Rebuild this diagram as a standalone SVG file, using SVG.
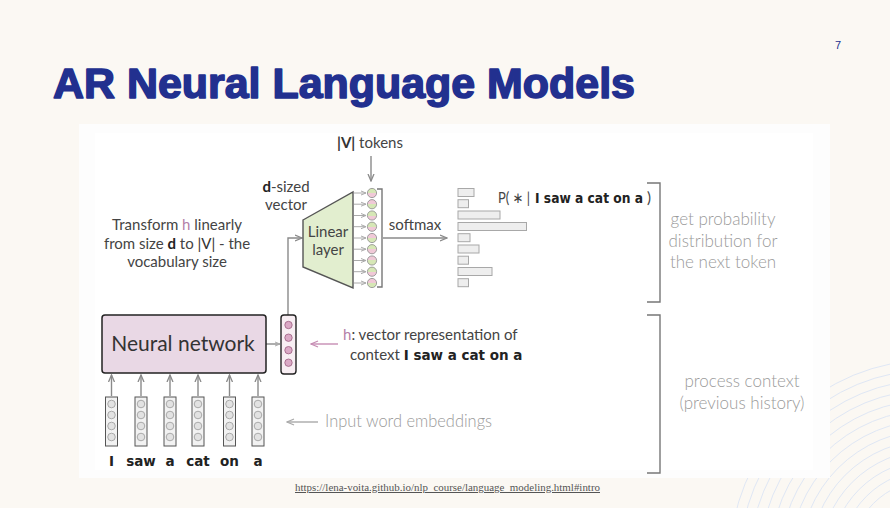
<svg xmlns="http://www.w3.org/2000/svg" width="890" height="508" viewBox="0 0 890 508">
<defs>
<style>
.t{font-family:Lato,"Open Sans","DejaVu Sans",sans-serif;font-size:15px;fill:#444}
.lt{font-family:Lato,"Open Sans","DejaVu Sans",sans-serif;font-size:17px;fill:#9a9a9a;font-weight:300}
.cm{font-family:"DejaVu Sans",sans-serif;font-size:13.5px;fill:#222;font-weight:bold}
.ln{stroke:#8a8a8a;stroke-width:1.4;fill:none}
.br{stroke:#777;stroke-width:1.4;fill:none}
.emb{fill:#f2f2f2;stroke:#555;stroke-width:1}
.ec{fill:#e2e2e2;stroke:#999;stroke-width:0.8}
.bar{fill:#eeeeee;stroke:#a8a8a8;stroke-width:1}
.hc{fill:#dba9c6;stroke:#9c5e80;stroke-width:0.8}
</style>
<marker id="ag" markerWidth="8" markerHeight="8" refX="7" refY="4" orient="auto" markerUnits="userSpaceOnUse">
<path d="M0,1 L7,4 L0,7" fill="none" stroke="#8a8a8a" stroke-width="1.3"/>
</marker>
<marker id="as" markerWidth="6" markerHeight="6" refX="5" refY="3" orient="auto" markerUnits="userSpaceOnUse">
<path d="M0,1 L5,3 L0,5" fill="none" stroke="#aaa" stroke-width="1"/>
</marker>
<marker id="ap" markerWidth="9" markerHeight="8" refX="8" refY="4" orient="auto" markerUnits="userSpaceOnUse">
<path d="M1,1 L8,4 L1,7" fill="none" stroke="#c68db3" stroke-width="1.3"/>
</marker>
<marker id="al" markerWidth="9" markerHeight="8" refX="8" refY="4" orient="auto" markerUnits="userSpaceOnUse">
<path d="M1,1 L8,4 L1,7" fill="none" stroke="#aaa" stroke-width="1.3"/>
</marker>
<linearGradient id="gp" x1="0" y1="0" x2="0" y2="1">
<stop offset="0.5" stop-color="#d6e7b6"/><stop offset="0.5" stop-color="#f0c9d7"/>
</linearGradient>
<linearGradient id="pg" x1="0" y1="0" x2="0" y2="1">
<stop offset="0.5" stop-color="#f0c9d7"/><stop offset="0.5" stop-color="#d6e7b6"/>
</linearGradient>
</defs>

<rect width="890" height="508" fill="#fbf8f3"/>
<g fill="none" stroke="#dfe7f5" stroke-width="1">
<circle cx="930" cy="560" r="80"/><circle cx="930" cy="560" r="90"/><circle cx="930" cy="560" r="100"/><circle cx="930" cy="560" r="110"/><circle cx="930" cy="560" r="120"/><circle cx="930" cy="560" r="130"/><circle cx="930" cy="560" r="140"/><circle cx="930" cy="560" r="150"/><circle cx="930" cy="560" r="160"/><circle cx="930" cy="560" r="170"/><circle cx="930" cy="560" r="180"/><circle cx="930" cy="560" r="190"/><circle cx="930" cy="560" r="200"/>
</g>

<text x="53" y="98" font-family="'Liberation Sans',Arial,sans-serif" font-weight="bold" font-size="43" fill="#22308f" stroke="#22308f" stroke-width="1.6" stroke-linejoin="round" textLength="582" lengthAdjust="spacingAndGlyphs">AR Neural Language Models</text>
<text x="835" y="49" font-family="'Liberation Sans',Arial,sans-serif" font-size="11" fill="#22308f">7</text>

<rect x="79" y="124" width="751" height="354" fill="#fdfdfd"/>
<rect x="95" y="133" width="718" height="337" fill="#ffffff"/>

<g id="connectors">
<line class="ln" x1="371" y1="156" x2="371" y2="181" marker-end="url(#ag)"/>
<polyline class="ln" points="288,315 288,238 302,238" marker-end="url(#ag)"/>
<line class="ln" x1="266" y1="344" x2="280" y2="344" marker-end="url(#as)"/>
<line class="ln" x1="383" y1="238" x2="447" y2="238" stroke="#aaa" marker-end="url(#ag)"/>
<line x1="338" y1="344" x2="311" y2="344" stroke="#c68db3" stroke-width="1.4" marker-end="url(#ap)"/>
<line x1="318" y1="422" x2="287" y2="422" stroke="#aaa" stroke-width="1.4" marker-end="url(#al)"/>
<g class="ln">
<line x1="111.5" y1="396" x2="111.5" y2="375" marker-end="url(#ag)"/>
<line x1="141" y1="396" x2="141" y2="375" marker-end="url(#ag)"/>
<line x1="170" y1="396" x2="170" y2="375" marker-end="url(#ag)"/>
<line x1="198" y1="396" x2="198" y2="375" marker-end="url(#ag)"/>
<line x1="229.5" y1="396" x2="229.5" y2="375" marker-end="url(#ag)"/>
<line x1="258" y1="396" x2="258" y2="375" marker-end="url(#ag)"/>
</g>
<g stroke="#aaa" stroke-width="1" fill="none">
<line x1="354" y1="193" x2="366" y2="193" marker-end="url(#as)"/>
<line x1="354" y1="204.2" x2="366" y2="204.2" marker-end="url(#as)"/>
<line x1="354" y1="215.5" x2="366" y2="215.5" marker-end="url(#as)"/>
<line x1="354" y1="226.7" x2="366" y2="226.7" marker-end="url(#as)"/>
<line x1="354" y1="238" x2="366" y2="238" marker-end="url(#as)"/>
<line x1="354" y1="249.2" x2="366" y2="249.2" marker-end="url(#as)"/>
<line x1="354" y1="260.5" x2="366" y2="260.5" marker-end="url(#as)"/>
<line x1="354" y1="271.7" x2="366" y2="271.7" marker-end="url(#as)"/>
<line x1="354" y1="283" x2="366" y2="283" marker-end="url(#as)"/>
</g>
<path class="br" d="M377,189 H382 V287 H377"/>
<path class="br" d="M647,183 H660 V302 H647"/>
<path class="br" d="M647,315 H660 V473 H647"/>
</g>

<g id="tokens-label">
<text class="t" x="370" y="148" text-anchor="middle"><tspan font-weight="bold" fill="#333">|V|</tspan> tokens</text>
</g>
<g id="dsized-label">
<text class="t" x="286" y="192" text-anchor="middle"><tspan font-weight="bold" fill="#222">d</tspan>-sized</text>
<text class="t" x="286" y="210" text-anchor="middle">vector</text>
</g>
<g id="transform-label">
<text class="t" x="177" y="230" text-anchor="middle">Transform <tspan fill="#b47fa8">h</tspan> linearly</text>
<text class="t" x="177" y="248.5" text-anchor="middle">from size <tspan font-weight="bold" fill="#222">d</tspan> to <tspan fill="#333">|V|</tspan> - the</text>
<text class="t" x="177" y="267" text-anchor="middle">vocabulary size</text>
</g>

<g id="linear-layer">
<polygon points="303,220 353,192 353,288 303,267" fill="#e2eecf" stroke="#555" stroke-width="1.4"/>
<text class="t" x="328" y="237" text-anchor="middle" fill="#333">Linear</text>
<text class="t" x="328" y="255" text-anchor="middle" fill="#333">layer</text>
</g>

<g id="output-vector" stroke="#8a8a8a" stroke-width="0.8">
<circle cx="372" cy="193" r="4.6" fill="url(#gp)"/>
<circle cx="372" cy="204.2" r="4.6" fill="url(#pg)"/>
<circle cx="372" cy="215.5" r="4.6" fill="url(#gp)"/>
<circle cx="372" cy="226.7" r="4.6" fill="url(#gp)"/>
<circle cx="372" cy="238" r="4.6" fill="url(#pg)"/>
<circle cx="372" cy="249.2" r="4.6" fill="url(#gp)"/>
<circle cx="372" cy="260.5" r="4.6" fill="url(#pg)"/>
<circle cx="372" cy="271.7" r="4.6" fill="url(#gp)"/>
<circle cx="372" cy="283" r="4.6" fill="url(#pg)"/>
</g>

<g id="softmax-label">
<text class="t" x="415" y="230" text-anchor="middle">softmax</text>
</g>

<g id="distribution">
<rect class="bar" x="458" y="188.5" width="16" height="8"/>
<rect class="bar" x="458" y="199.7" width="10.5" height="8"/>
<rect class="bar" x="458" y="211" width="42" height="8"/>
<rect class="bar" x="458" y="222.5" width="68.5" height="8"/>
<rect class="bar" x="458" y="233.7" width="12" height="8"/>
<rect class="bar" x="458" y="245" width="21" height="8"/>
<rect class="bar" x="458" y="256.2" width="10.5" height="8"/>
<rect class="bar" x="458" y="267.5" width="34" height="8"/>
<rect class="bar" x="458" y="278.7" width="10.5" height="8"/>
<text class="t" x="498" y="203" fill="#333" font-size="14" textLength="32" lengthAdjust="spacingAndGlyphs">P( ∗ |</text>
<text class="cm" x="535" y="203" textLength="108" lengthAdjust="spacingAndGlyphs">I saw a cat on a</text>
<text class="t" x="647" y="203" fill="#333" font-size="14">)</text>
</g>

<g id="prob-label">
<text class="lt" x="723" y="225" text-anchor="middle">get probability</text>
<text class="lt" x="723" y="246.5" text-anchor="middle">distribution for</text>
<text class="lt" x="723" y="268" text-anchor="middle">the next token</text>
</g>

<g id="neural-network">
<rect x="102" y="315" width="164" height="58" rx="3" fill="#e9d8e5" stroke="#222" stroke-width="1.5"/>
<text x="183" y="351" text-anchor="middle" font-family="Lato,'Open Sans',sans-serif" font-size="21" fill="#333">Neural network</text>
</g>

<g id="h-vector">
<rect x="281" y="315" width="15" height="59" rx="3" fill="#f8eef3" stroke="#222" stroke-width="1.4"/>
<circle class="hc" cx="288.5" cy="325" r="3.7"/>
<circle class="hc" cx="288.5" cy="337.7" r="3.7"/>
<circle class="hc" cx="288.5" cy="350.2" r="3.7"/>
<circle class="hc" cx="288.5" cy="362.7" r="3.7"/>
</g>

<g id="h-label">
<text class="t" x="343" y="340"><tspan fill="#b47fa8">h</tspan>: vector representation of</text>
<text class="t" x="350" y="359.5">context <tspan class="cm">I saw a cat on a</tspan></text>
</g>

<g id="embeddings">
<g>
<rect class="emb" x="105.5" y="397" width="12" height="49"/>
<rect class="emb" x="135" y="397" width="12" height="49"/>
<rect class="emb" x="164" y="397" width="12" height="49"/>
<rect class="emb" x="192" y="397" width="12" height="49"/>
<rect class="emb" x="223.5" y="397" width="12" height="49"/>
<rect class="emb" x="252" y="397" width="12" height="49"/>
</g>
<g>
<circle class="ec" cx="111.5" cy="404" r="3.8"/><circle class="ec" cx="111.5" cy="415" r="3.8"/><circle class="ec" cx="111.5" cy="426" r="3.8"/><circle class="ec" cx="111.5" cy="437" r="3.8"/>
<circle class="ec" cx="141" cy="404" r="3.8"/><circle class="ec" cx="141" cy="415" r="3.8"/><circle class="ec" cx="141" cy="426" r="3.8"/><circle class="ec" cx="141" cy="437" r="3.8"/>
<circle class="ec" cx="170" cy="404" r="3.8"/><circle class="ec" cx="170" cy="415" r="3.8"/><circle class="ec" cx="170" cy="426" r="3.8"/><circle class="ec" cx="170" cy="437" r="3.8"/>
<circle class="ec" cx="198" cy="404" r="3.8"/><circle class="ec" cx="198" cy="415" r="3.8"/><circle class="ec" cx="198" cy="426" r="3.8"/><circle class="ec" cx="198" cy="437" r="3.8"/>
<circle class="ec" cx="229.5" cy="404" r="3.8"/><circle class="ec" cx="229.5" cy="415" r="3.8"/><circle class="ec" cx="229.5" cy="426" r="3.8"/><circle class="ec" cx="229.5" cy="437" r="3.8"/>
<circle class="ec" cx="258" cy="404" r="3.8"/><circle class="ec" cx="258" cy="415" r="3.8"/><circle class="ec" cx="258" cy="426" r="3.8"/><circle class="ec" cx="258" cy="437" r="3.8"/>
</g>
<g text-anchor="middle">
<text class="cm" x="111.5" y="466">I</text>
<text class="cm" x="141" y="466">saw</text>
<text class="cm" x="170" y="466">a</text>
<text class="cm" x="198" y="466">cat</text>
<text class="cm" x="229.5" y="466">on</text>
<text class="cm" x="258" y="466">a</text>
</g>
</g>

<g id="embeddings-label">
<text class="lt" x="325" y="427" font-size="15" textLength="167" lengthAdjust="spacingAndGlyphs">Input word embeddings</text>
</g>

<g id="context-label">
<text class="lt" x="742" y="387" text-anchor="middle">process context</text>
<text class="lt" x="742" y="408.5" text-anchor="middle">(previous history)</text>
</g>

<g id="source">
<text x="295" y="491" font-family="'Liberation Serif',serif" font-size="10" fill="#555" text-decoration="underline" textLength="305" lengthAdjust="spacingAndGlyphs">https://lena-voita.github.io/nlp_course/language_modeling.html#intro</text>
</g>
</svg>
